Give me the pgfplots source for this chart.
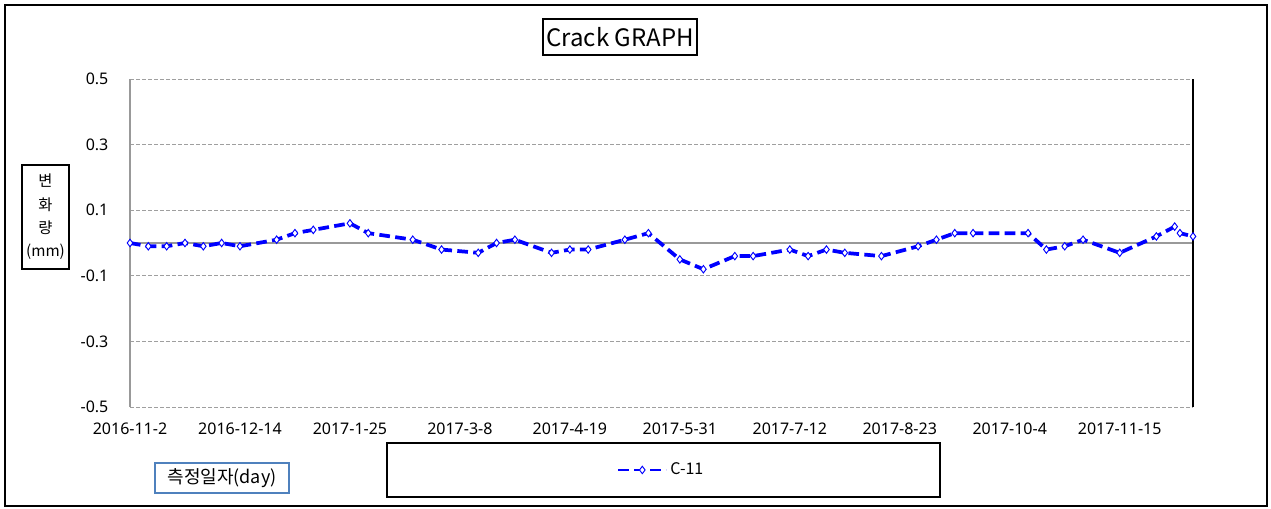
\documentclass[border=0pt]{standalone}
\usepackage{pgfplots}
\pgfplotsset{compat=1.18}
\usepackage{fontspec}
\setmainfont{Noto Sans}
\newfontfamily\kr{Noto Sans CJK KR}
\definecolor{xlabblue}{RGB}{79,129,189}
\begin{document}
\begin{tikzpicture}[x=0.75pt,y=0.75pt]
\path[use as bounding box] (0,0) rectangle (1271,509);
\draw[line width=1pt] (5,3) rectangle (1267,504);
\begin{axis}[
 at={(97.5pt,76.5pt)}, anchor=south west,
 width=797.25pt, height=246pt, scale only axis,
 xmin=0, xmax=406, ymin=-0.5, ymax=0.5,
 clip=false,
 axis line style={draw=none},
 major tick length=0pt,
 xtick={0,42,84,126,168,210,252,294,336,378},
 xticklabels={2016-11-2,2016-12-14,2017-1-25,2017-3-8,2017-4-19,2017-5-31,2017-7-12,2017-8-23,2017-10-4,2017-11-15},
 ytick={-0.5,-0.3,-0.1,0.1,0.3,0.5},
 /pgf/number format/assume math mode=true,
 yticklabel style={/pgf/number format/fixed, /pgf/number format/precision=1, /pgf/number format/fixed zerofill, inner sep=0pt, xshift=-16pt},
 xticklabel style={inner sep=0pt, yshift=-12pt},
 ticklabel style={font=\fontsize{12}{14}\selectfont},
 ymajorgrids,
 major grid style={gray!75, dash pattern=on 3pt off 1.5pt, line width=0.7pt},
 extra y ticks={0}, extra y tick labels={},
 extra y tick style={major grid style={solid, gray!80, line width=0.8pt}},
 legend style={at={(0.5,-0.192)}, anchor=center, draw=none, fill=none, font=\kr\fontsize{12}{14}\selectfont},
 legend image code/.code={\draw[mark repeat=2,mark phase=2,#1,line width=2pt] plot coordinates {(0pt,0pt) (18pt,0pt) (36pt,0pt)};},
]
\addplot[color=blue, line width=2.8pt, dash pattern=on 8pt off 4pt, mark=diamond*, mark size=2.8pt, mark options={solid, fill=white, draw=blue, line width=0.7pt}] table {
x y
0 0.00
7 -0.01
14 -0.01
21 0.00
28 -0.01
35 0.00
42 -0.01
56 0.01
63 0.03
70 0.04
84 0.06
91 0.03
108 0.01
119 -0.02
133 -0.03
140 0.00
147 0.01
161 -0.03
168 -0.02
175 -0.02
189 0.01
198 0.03
210 -0.05
219 -0.08
231 -0.04
238 -0.04
252 -0.02
259 -0.04
266 -0.02
273 -0.03
287 -0.04
301 -0.01
308 0.01
315 0.03
322 0.03
343 0.03
350 -0.02
357 -0.01
364 0.01
378 -0.03
392 0.02
399 0.05
401 0.03
406 0.02
};
\addlegendentry{C-11}
\draw[gray!80, line width=0.8pt] (rel axis cs:0,0) -- (rel axis cs:0,1);
\draw[black, line width=0.8pt] (rel axis cs:1,0) -- (rel axis cs:1,1);
\end{axis}
\node[draw, line width=1.2pt, minimum width=115.5pt, minimum height=27pt, inner sep=0pt, font=\kr\fontsize{18}{20}\selectfont] at (620,472) {Crack GRAPH};
\node[draw, line width=1.2pt, minimum width=35pt, minimum height=78pt, inner sep=0pt, align=center, font=\kr\fontsize{11.5}{17.5}\selectfont] at (45.5,292) {변\\화\\량\\(mm)};
\node[draw=xlabblue, line width=1pt, minimum width=100.5pt, minimum height=22.5pt, inner sep=0pt, font=\kr\fontsize{13.5}{15}\selectfont] at (222,31) {측정일자(day)};
\draw[line width=0.9pt] (387,66) rectangle (940,12);
\end{tikzpicture}
\end{document}
